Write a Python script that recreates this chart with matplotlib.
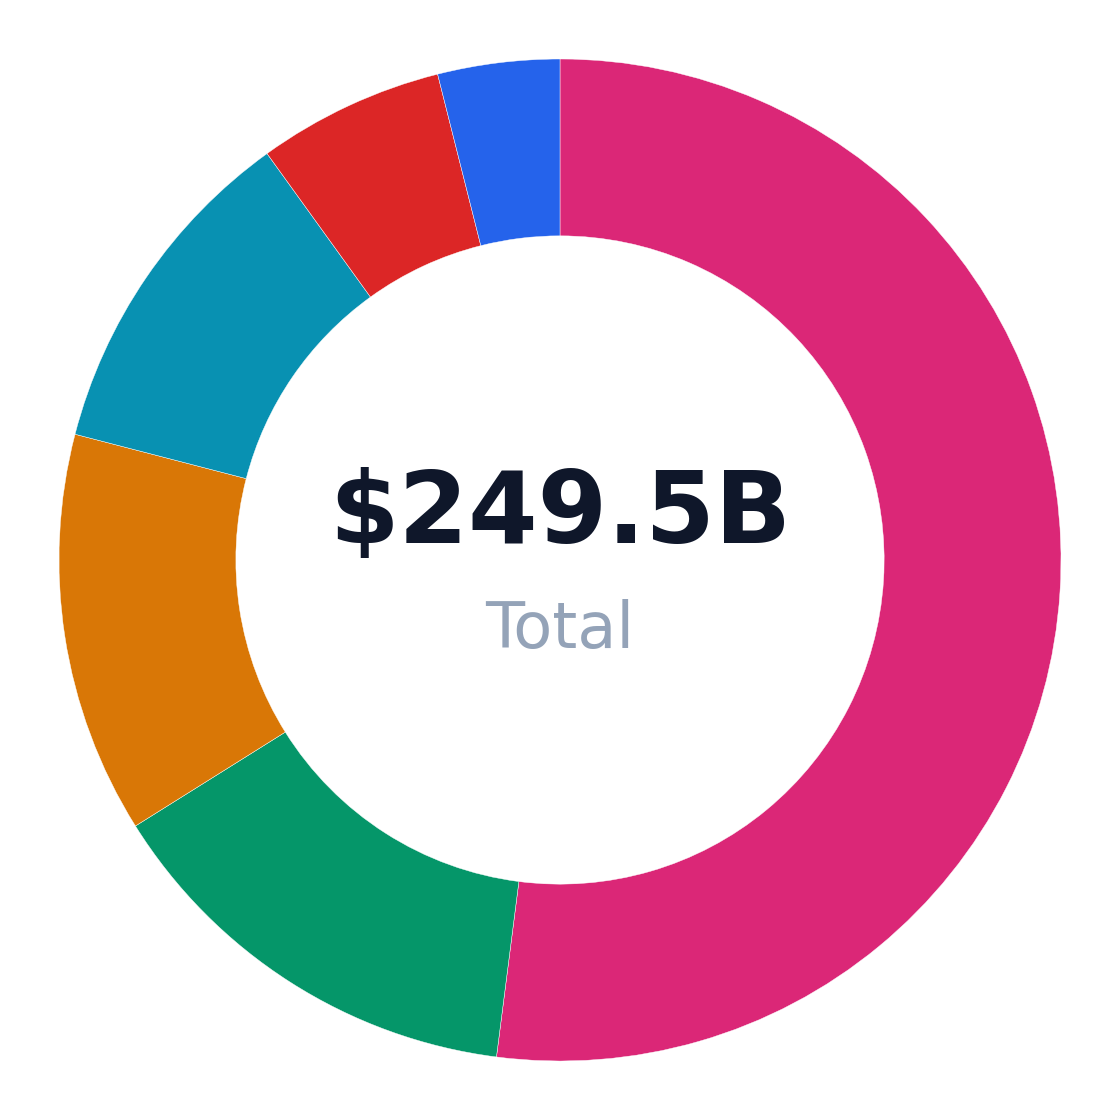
import matplotlib
matplotlib.use("Agg")
import matplotlib.pyplot as plt

categories = ["A", "B", "C", "D", "E", "F"]
values = [129.8, 35.1, 32.3, 27.5, 15.0, 9.8]
colors = ["#DB2777", "#059669", "#D97706", "#0891B2", "#DC2626", "#2563EB"]
total_label = "$249.5B"
sub_label = "Total"

W = H = 1120
fig = plt.figure(figsize=(W / 100, H / 100), dpi=100)
R = 501
cx, cy = 560, 560
ax = fig.add_axes([(cx - R) / W, (H - cy - R) / H, 2 * R / W, 2 * R / H])
ax.pie(values, colors=colors, startangle=90, counterclock=False, radius=1.0,
       wedgeprops=dict(width=0.353, edgecolor="white", linewidth=0.3))
ax.set_xlim(-1, 1)
ax.set_ylim(-1, 1)
ax.set_aspect("equal")
ax.axis("off")

fig.text(0.5, 1 - 543 / H, total_label, ha="center", va="baseline",
         fontsize=72, fontweight="bold", color="#0F172A", family="DejaVu Sans")
fig.text(0.5, 1 - 648 / H, sub_label, ha="center", va="baseline",
         fontsize=46, color="#94A3B8", family="DejaVu Sans")

fig.savefig("out.png", dpi=100, facecolor="white")
